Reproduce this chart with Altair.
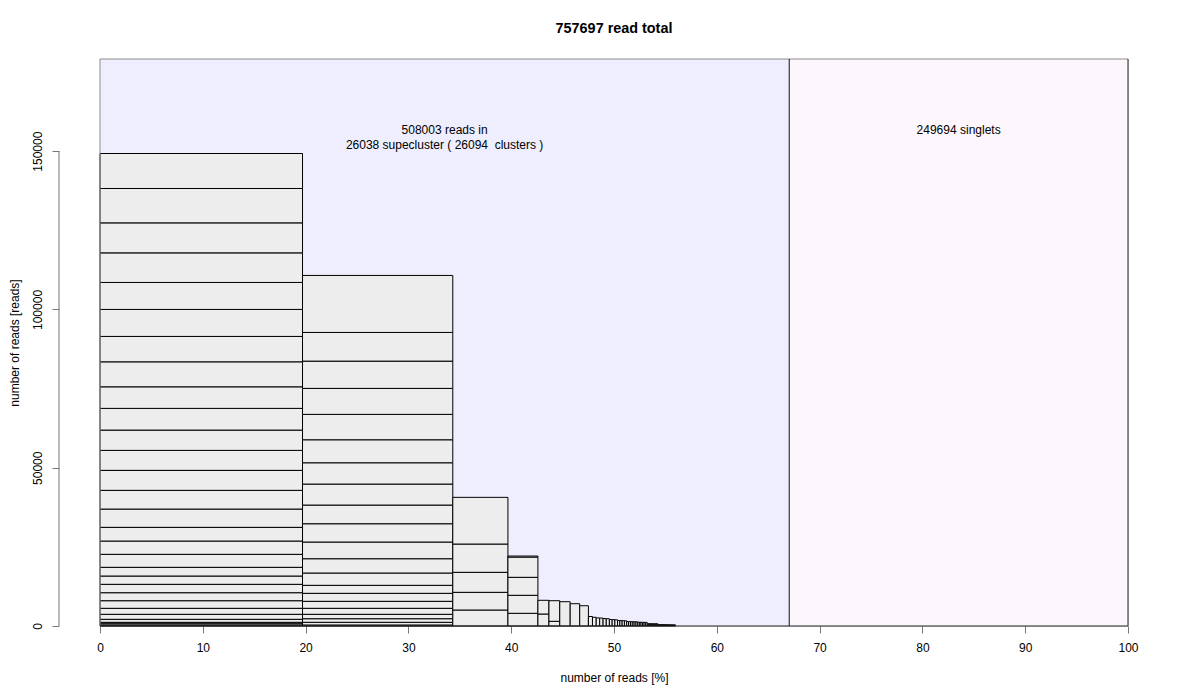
import altair as alt
import pandas as pd

TOTAL_READS = 757697
CLUSTERED_READS = 508003
SINGLETS = 249694
N_SUPERCLUSTERS = 26038
N_CLUSTERS = 26094

# read counts of the clusters inside each visible supercluster (bottom to top)
sc1 = [316, 414, 438, 948, 1579, 1894, 2400, 2527, 2652, 2621, 2748, 4105, 4200, 4327,
       5778, 5906, 6315, 6316, 6411, 6853, 6821, 7894, 8021, 8527, 8526, 9347, 9474,
       10863, 11053]
sc2 = [316, 852, 1137, 1390, 1894, 2211, 2526, 2527, 3884, 4516, 5273, 5779, 5906,
       6631, 6726, 7264, 8021, 8210, 8621, 9063, 18001]
sc3 = [5053, 5589, 6316, 8937, 14747]
sc4 = [4011, 5684, 5684, 6400, 326]
sc5 = [3790, 4326]
sc6 = [1484, 6505]
sc7 = [7674]
sc8 = [7042]
sc9 = [6400]
sc10 = [3000]
# small single-cluster superclusters in the tail
tail = [2750, 2550, 2500, 2350, 2300, 2050, 2000, 1950, 1720, 1700, 1680, 1650,
        1400, 1380, 1370, 1350, 1330, 1320, 1200, 1180, 1170, 1160, 1150, 1140,
        760, 750, 740, 740, 730, 720, 720, 710, 700, 700, 690,
        450, 450, 445, 440, 440, 435, 430, 430, 425, 420, 420, 415, 410, 410, 405,
        400, 400, 395, 390, 390, 385, 380, 380, 375, 370, 370, 365, 360, 360, 355,
        350, 350]

y_ticks = [0, 50000, 100000, 150000]
x_ticks = [0, 10, 20, 30, 40, 50, 60, 70, 80, 90, 100]

superclusters = [sc1, sc2, sc3, sc4, sc5, sc6, sc7, sc8, sc9, sc10] + [[v] for v in tail]

rows = []
done = 0
for sc in superclusters:
    tot = sum(sc)
    x0 = done / TOTAL_READS * 100
    x1 = (done + tot) / TOTAL_READS * 100
    cum = 0
    for c in sc:
        rows.append({"x": x0, "x2": x1, "y": cum, "y2": cum + c})
        cum += c
    done += tot
bars = pd.DataFrame(rows)

ymax = max(sum(s) for s in superclusters) * 1.2
ytext = max(sum(s) for s in superclusters) * 1.05
split = CLUSTERED_READS / TOTAL_READS * 100

FONT = "Liberation Sans"

xs = alt.Scale(domain=[0, 100], nice=False, zero=False)
ys = alt.Scale(domain=[0, ymax], nice=False, zero=False)

xaxis = alt.Axis(
    values=x_ticks, title="number of reads [%]", domain=False, grid=False,
    tickSize=7, tickColor="#777", labelPadding=9, labelFontSize=12,
    labelFont=FONT, labelColor="black", labelFlush=False, format="d",
    titleFont=FONT, titleFontSize=12, titleFontWeight="normal",
    titleColor="black", titleY=51, titleBaseline="middle")
yaxis = alt.Axis(
    values=y_ticks, title="number of reads [reads]", domain=False, grid=False,
    offset=41, tickSize=7, tickColor="#777", labelAngle=270, format="d",
    labelAlign="center", labelBaseline="bottom", labelPadding=8,
    labelFontSize=12, labelFont=FONT, labelColor="black", labelFlush=False,
    titleFont=FONT, titleFontSize=12, titleFontWeight="normal",
    titleColor="black", titleX=-45, titleBaseline="middle")

X = alt.X("x:Q", scale=xs, axis=xaxis)
Y = alt.Y("y:Q", scale=ys, axis=yaxis)

bg_df = pd.DataFrame({"x": [0, split], "x2": [split, 100], "y": [0, 0],
                      "y2": [ymax, ymax], "c": ["#EEEEFE", "#FDF7FD"]})
bg = alt.Chart(bg_df).mark_rect().encode(
    x=X, x2="x2:Q", y=Y, y2="y2:Q",
    color=alt.Color("c:N", scale=None),
)

rects = alt.Chart(bars).mark_rect(fill="#EDEDED", stroke="black", strokeWidth=1).encode(
    x=X, x2="x2:Q", y=Y, y2="y2:Q",
)

frame_df = pd.DataFrame({
    "x": [0, 0, 100, 0, split],
    "x2": [100, 0, 100, 100, split],
    "y": [ymax, 0, 0, 0, 0],
    "y2": [ymax, ymax, ymax, 0, ymax],
    "c": ["#8c8c8c", "#8c8c8c", "#222222", "#222222", "#111111"],
})
frame = alt.Chart(frame_df).mark_rule(strokeWidth=1).encode(
    x=X, x2="x2:Q", y=Y, y2="y2:Q",
    color=alt.Color("c:N", scale=None),
)

yaxis_line = alt.Chart(pd.DataFrame({"y": [y_ticks[0]], "y2": [y_ticks[-1]]})).mark_rule(
    color="#777", strokeWidth=1).encode(
    x=alt.value(-41), y=Y, y2="y2:Q",
)

txt_df = pd.DataFrame({
    "x": [split / 2, (split + 100) / 2],
    "y": [ytext, ytext],
    "t": [f"{CLUSTERED_READS} reads in\n{N_SUPERCLUSTERS} supecluster ( {N_CLUSTERS}\u00a0 clusters )",
          f"{SINGLETS} singlets"],
})
texts = alt.Chart(txt_df).mark_text(
    font=FONT, fontSize=12, lineBreak="\n", lineHeight=15, align="center",
    baseline="middle", color="black").encode(
    x=X, y=Y, text="t:N",
)

chart = alt.layer(bg, rects, frame, yaxis_line, texts).properties(
    width=1028, height=567,
    title=alt.TitleParams(f"{TOTAL_READS} read total", font=FONT, fontSize=14.4,
                          fontWeight="bold", anchor="middle", offset=22,
                          color="black"),
    autosize=alt.AutoSizeParams(type="none"),
    padding={"left": 92, "top": 51, "right": 64, "bottom": 66},
).configure_view(stroke=None).configure(background="white")

chart.save("out.html", embed_options={"renderer": "svg", "actions": False})
